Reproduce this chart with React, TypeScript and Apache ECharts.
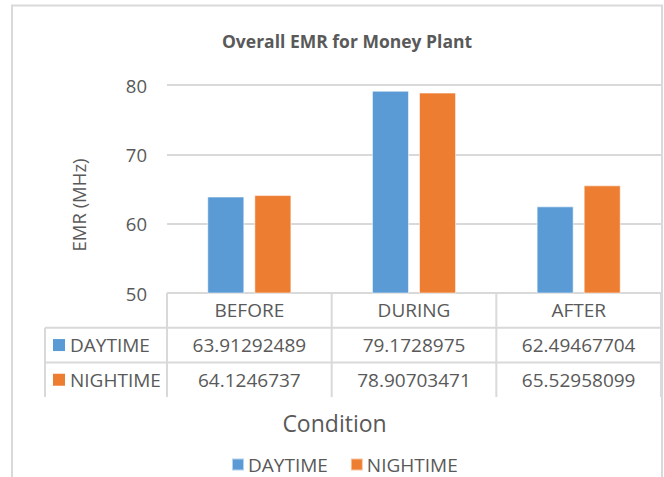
import React, { useEffect, useRef } from "react";
import * as echarts from "echarts";

const categories = ["BEFORE", "DURING", "AFTER"];
const seriesNames = ["DAYTIME", "NIGHTIME"];
const daytime = [63.91292489, 79.1728975, 62.49467704];
const nighttime = [64.1246737, 78.90703471, 65.52958099];
const yMin = 50;
const yMax = 80;
const yInterval = 10;
const titleText = "Overall EMR for Money Plant";
const yName = "EMR (MHz)";
const xName = "Condition";

const COLORS = ["#5b9bd5", "#ed7d31"];
const FONT = "'Open Sans', 'Liberation Sans', sans-serif";
const TEXT = "#595959";
const LINE = "#d9d9d9";

export default function App() {
  const ref = useRef<HTMLDivElement>(null);
  useEffect(() => {
    if (!ref.current) return;
    const chart = echarts.init(ref.current, undefined, { renderer: "svg" });
    const seriesData = [daytime, nighttime];
    chart.setOption({
      animation: false,
      title: {
        text: titleText,
        left: 342,
        top: 27,
        textAlign: "center",
        textStyle: { fontFamily: FONT, fontSize: 17.5, fontWeight: "bold", color: TEXT },
      },
      legend: {
        data: seriesNames,
        left: 226,
        top: 450,
        icon: "rect",
        itemWidth: 12,
        itemHeight: 12,
        itemGap: 22,
        textStyle: { fontFamily: FONT, fontSize: 19, color: TEXT, padding: [0, 0, 0, -1] },
      },
      grid: { left: 167, right: 3, top: 85, height: 208, containLabel: false },
      xAxis: {
        type: "category",
        data: categories,
        axisLine: { show: false },
        axisTick: { show: false },
        axisLabel: { show: false },
      },
      yAxis: {
        type: "value",
        min: yMin,
        max: yMax,
        interval: yInterval,
        axisLine: { show: false },
        axisTick: { show: false },
        axisLabel: { fontFamily: FONT, fontSize: 18.5, color: TEXT, margin: 20 },
        splitLine: { lineStyle: { color: LINE, width: 2 } },
      },
      series: seriesNames.map((name, i) => ({
        name,
        type: "bar",
        data: seriesData[i],
        barWidth: "22.5%",
        barGap: "27%",
        itemStyle: { color: COLORS[i], borderColor: "rgba(255,255,255,0.55)", borderWidth: 1 },
      })),
    });

    // Build data table from the axis scales
    const c0 = chart.convertToPixel({ xAxisIndex: 0 }, 0) as number;
    const c1 = chart.convertToPixel({ xAxisIndex: 0 }, 1) as number;
    const band = c1 - c0;
    const yBase = chart.convertToPixel({ yAxisIndex: 0 }, yMin) as number;
    const RH = 34.7;
    const tableLeft = 45;
    const bounds = categories.map((_, i) => c0 + (i - 0.5) * band);
    bounds.push(c0 + (categories.length - 0.5) * band);
    const right = bounds[bounds.length - 1];
    const els: any[] = [];
    const line = (x1: number, y1: number, x2: number, y2: number) =>
      els.push({
        type: "line",
        silent: true,
        shape: { x1, y1, x2, y2 },
        style: { stroke: LINE, lineWidth: 2 },
      });
    const txt = (x: number, y: number, text: string, align = "center", size = 19) =>
      els.push({
        type: "text",
        silent: true,
        x,
        y,
        style: {
          text,
          fill: TEXT,
          font: `${size}px ${FONT}`,
          align,
          verticalAlign: "middle",
          textAlign: align,
          textVerticalAlign: "middle",
        },
      });
    // outer border
    els.push({
      type: "rect",
      silent: true,
      shape: { x: 12, y: 5.5, width: 650, height: 540 },
      style: { fill: "none", stroke: LINE, lineWidth: 2 },
    });
    line(bounds[0], yBase, right, yBase);
    for (let r = 1; r <= seriesNames.length; r++) line(tableLeft, yBase + r * RH, right, yBase + r * RH);
    line(tableLeft, yBase + RH, tableLeft, yBase + (seriesNames.length + 1) * RH);
    bounds.forEach((bx) => line(bx, yBase, bx, yBase + (seriesNames.length + 1) * RH));
    categories.forEach((cat, i) => txt(c0 + i * band, yBase + RH / 2, cat));
    seriesNames.forEach((name, r) => {
      const cy = yBase + (r + 1.5) * RH;
      els.push({
        type: "rect",
        silent: true,
        shape: { x: 53, y: cy - 6, width: 12, height: 12 },
        style: { fill: COLORS[r] },
      });
      txt(70, cy, name, "left");
      seriesData[r].forEach((v, i) => txt(c0 + i * band, cy, String(v)));
    });
    // axis titles
    txt(334.5, 423, xName, "center", 23);
    els.push({
      type: "text",
      silent: true,
      x: 78,
      y: 205,
      rotation: Math.PI / 2,
      style: {
        text: yName,
        fill: TEXT,
        font: `18.5px ${FONT}`,
        align: "center",
        verticalAlign: "middle",
        textAlign: "center",
        textVerticalAlign: "middle",
      },
    });
    chart.setOption({ graphic: { elements: els } });
    return () => chart.dispose();
  }, []);
  return (
    <div
      ref={ref}
      style={{ position: "absolute", left: 0, top: 0, width: 664, height: 477, background: "#fff" }}
    />
  );
}
